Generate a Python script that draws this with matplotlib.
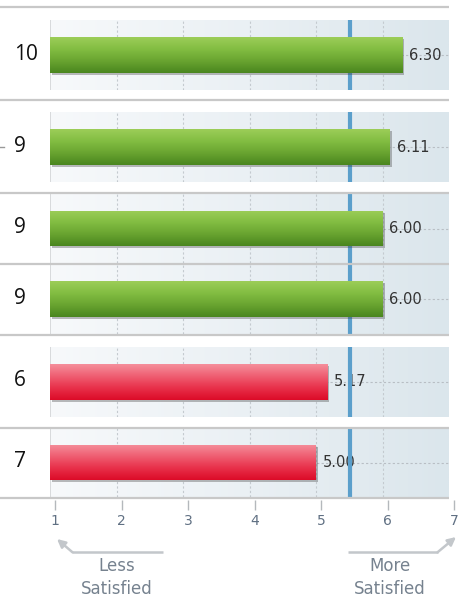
import numpy as np
import matplotlib
matplotlib.use('Agg')
import matplotlib.pyplot as plt
from matplotlib.colors import LinearSegmentedColormap
from matplotlib.transforms import offset_copy

# ---- data ----
counts = [10, 9, 9, 9, 6, 7]
scores = [6.30, 6.11, 6.00, 6.00, 5.17, 5.00]
benchmark = 5.51
ticks = [1, 2, 3, 4, 5, 6, 7]
low_label = ["Less", "Satisfied"]
high_label = ["More", "Satisfied"]

W, H = 470, 599
fig = plt.figure(figsize=(W / 100, H / 100), dpi=100)


def px_axes(x0, y0, x1, y1):
    return fig.add_axes([x0 / W, 1 - y1 / H, (x1 - x0) / W, (y1 - y0) / H])


panels = [(20, 90), (112, 182), (194, 263), (264, 334), (347, 417), (428, 497)]
bg_cmap = LinearSegmentedColormap.from_list('bg', ['#f7f9fb', '#eaf0f4', '#dbe6ec'])
green_cmap = LinearSegmentedColormap.from_list('g', ['#9ccd58', '#82bd42', '#69a430', '#4a861f'])
red_cmap = LinearSegmentedColormap.from_list('r', ['#f58e9b', '#ef5e72', '#e8304a', '#dc0c28'])
bar_h = 36 / 70

for (t, b), score in zip(panels, scores):
    ax = px_axes(50, t, 449, b)
    ax.axis('off')
    ax.imshow(np.linspace(0, 1, 256).reshape(1, -1), extent=(1, 7, 0, 1),
              aspect='auto', cmap=bg_cmap, zorder=0)
    ax.plot([1, 1], [0, 1], color='#d2d4d6', lw=1.2, zorder=1)
    for g in ticks[1:-1]:
        ax.axvline(g, color='#c4cacf', lw=0.8, ls=(0, (2, 2)), zorder=1)
    ax.axhline(0.5, color='#b8bec4', lw=0.8, ls=(0, (2, 2)), zorder=1)
    ax.text(score, 0.5, f"{score:.2f}", ha='left', va='center', fontsize=10.5,
            color='#333333',
            transform=offset_copy(ax.transData, fig, x=7, y=0, units='dots'),
            zorder=2)
    ax.axvline(benchmark, color='#5b9fcb', lw=3, zorder=3)
    ax.barh(0.5, score - 1, left=1, height=bar_h, color='#404040', alpha=0.35,
            transform=offset_copy(ax.transData, fig, x=2, y=-2, units='dots'),
            zorder=4)
    bar = ax.barh(0.5, score - 1, left=1, height=bar_h, color='none',
                  zorder=5)[0]
    cm = green_cmap if score >= benchmark else red_cmap
    im = ax.imshow(np.linspace(0, 1, 64).reshape(-1, 1),
                   extent=(1, score, 0.5 - bar_h / 2, 0.5 + bar_h / 2),
                   aspect='auto', cmap=cm, zorder=5)
    im.set_clip_path(bar)
    ax.set_xlim(1, 7)
    ax.set_ylim(0, 1)

# bottom axis
axb = px_axes(55, 499, 454, 500)
axb.set_xlim(1, 7)
axb.set_yticks([])
for s in axb.spines.values():
    s.set_visible(False)
axb.patch.set_alpha(0)
axb.set_xticks(ticks)
axb.set_xticklabels([str(v) for v in ticks])
axb.tick_params(axis='x', length=7, width=1, color='#b4b8bc',
                labelcolor='#607083', labelsize=10, pad=3)

# overlay in pixel coordinates
ov = fig.add_axes([0, 0, 1, 1])
ov.set_xlim(0, W)
ov.set_ylim(H, 0)
ov.axis('off')
ov.patch.set_alpha(0)
ov.hlines([7, 100, 193, 263.5, 335, 428, 498], 0, 449, color='#c8c8c8', lw=1.6)
ov.plot([0, 4], [147, 147], color='#999999', lw=1)

centers = [(t + b) / 2 for t, b in panels]
for c, n in zip(centers, counts):
    ov.text(14, c - 1, str(n), ha='left', va='center', fontsize=15,
            family='Open Sans', color='#111111')

arrow_col = '#c3c7cb'
ov.plot([163, 72], [552, 552], color=arrow_col, lw=1.8, solid_capstyle='butt')
ov.annotate('', xy=(57, 539), xytext=(72.5, 552.3),
            arrowprops=dict(arrowstyle='-|>', color=arrow_col, lw=1.8,
                            mutation_scale=12, shrinkA=0, shrinkB=0))
ov.plot([348, 438], [552, 552], color=arrow_col, lw=1.8, solid_capstyle='butt')
ov.annotate('', xy=(456, 537), xytext=(437.5, 552.3),
            arrowprops=dict(arrowstyle='-|>', color=arrow_col, lw=1.8,
                            mutation_scale=12, shrinkA=0, shrinkB=0))

txt_col = '#76828f'
ov.text(117, 566, low_label[0], ha='center', va='center', fontsize=12, color=txt_col)
ov.text(117, 589, low_label[1], ha='center', va='center', fontsize=12, color=txt_col)
ov.text(390, 566, high_label[0], ha='center', va='center', fontsize=12, color=txt_col)
ov.text(390, 589, high_label[1], ha='center', va='center', fontsize=12, color=txt_col)

fig.savefig('out.png', dpi=100)
